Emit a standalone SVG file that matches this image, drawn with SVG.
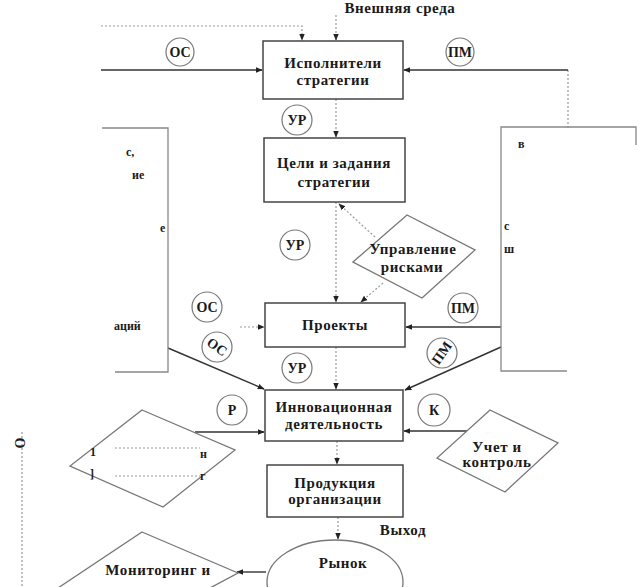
<svg xmlns="http://www.w3.org/2000/svg" width="639" height="587" viewBox="0 0 639 587">
<style>
  text{font-family:"Liberation Serif","DejaVu Serif",serif;font-weight:bold;fill:#1a1a1a;}
  .lbl{font-size:15px;letter-spacing:0.6px;text-anchor:middle;dominant-baseline:central;}
  .cl{font-size:14px;text-anchor:middle;dominant-baseline:central;}
  .frag{font-size:12px;dominant-baseline:central;}
  .box{fill:#fff;stroke:#444;stroke-width:1.5;}
  .dia{fill:#fff;stroke:#777;stroke-width:1.3;}
  .circ{fill:#fff;stroke:#777;stroke-width:1.2;}
  .big{fill:none;stroke:#888;stroke-width:1.3;}
  .solid{fill:none;stroke:#333;stroke-width:1.4;}
  .dot{fill:none;stroke:#999;stroke-width:1.2;stroke-dasharray:2 2;}
</style>
<defs>
  <marker id="ah" viewBox="0 0 10 10" refX="9" refY="5" markerWidth="7" markerHeight="7" orient="auto" markerUnits="userSpaceOnUse">
    <path d="M0,1 L10,5 L0,9 z" fill="#222"/>
  </marker>
</defs>
<rect width="639" height="587" fill="#fff"/>

<g id="connectors">
  <path class="dot" d="M336,15 V40" marker-end="url(#ah)"/>
  <path class="dot" d="M101,26 H302 V40" marker-end="url(#ah)"/>
  <path class="solid" d="M101,70 H262" marker-end="url(#ah)"/>
  <path class="dot" d="M568,128 V70" />
  <path class="solid" d="M568,70 H404" marker-end="url(#ah)"/>
  <path class="dot" d="M336,99 V137" marker-end="url(#ah)"/>
  <path class="dot" d="M336,202 V302" marker-end="url(#ah)"/>
  <path class="dot" d="M375,237 L339,204" marker-end="url(#ah)"/>
  <path class="dot" d="M383,283 L361,302" marker-end="url(#ah)"/>
  <path class="dot" d="M240,327 H264" marker-end="url(#ah)"/>
  <path class="solid" d="M501,327 H406" marker-end="url(#ah)"/>
  <path class="solid" d="M168,348 L264,389" marker-end="url(#ah)"/>
  <path class="solid" d="M501,347 L405,390" marker-end="url(#ah)"/>
  <path class="dot" d="M336,347 V389" marker-end="url(#ah)"/>
  <path class="solid" d="M195,432 H264" marker-end="url(#ah)"/>
  <path class="solid" d="M467,431 H404" marker-end="url(#ah)"/>
  <path class="dot" d="M337,441 V464" marker-end="url(#ah)"/>
  <path class="dot" d="M338,517 V539" marker-end="url(#ah)"/>
  <path class="solid" d="M266,572 H237" marker-end="url(#ah)"/>
  <path class="dot" d="M22,432 V587"/>
</g>

<g id="external">
  <text class="lbl" x="400" y="8">Внешняя среда</text>
</g>

<g id="left-block">
  <path class="big" d="M102,128 H168 V372 H115"/>
  <text class="frag" x="126" y="152">с,</text>
  <text class="frag" x="132" y="175" font-size="9">ие</text>
  <text class="frag" x="160" y="228">е</text>
  <text class="frag" x="114" y="326" font-size="11">аций</text>
</g>

<g id="right-block">
  <path class="big" d="M567,371 H501 V127 H636 V145"/>
  <text class="frag" x="518" y="144" font-size="10">в</text>
  <text class="frag" x="504" y="226" font-size="10">с</text>
  <text class="frag" x="504" y="249" font-size="10">ш</text>
</g>

<g id="n-ispolniteli">
  <rect class="box" x="263" y="41" width="140" height="58"/>
  <text class="lbl" x="333" y="63">Исполнители</text>
  <text class="lbl" x="333" y="80">стратегии</text>
</g>

<g id="n-celi">
  <rect class="box" x="264" y="138" width="141" height="64"/>
  <text class="lbl" x="334" y="163">Цели и задания</text>
  <text class="lbl" x="334" y="182">стратегии</text>
</g>

<g id="n-riski">
  <polygon class="dia" points="353,262 407,215 475,250 422,298"/>
  <text class="lbl" x="413" y="249">Управление</text>
  <text class="lbl" x="412" y="267">рисками</text>
</g>

<g id="n-proekty">
  <rect class="box" x="265" y="303" width="140" height="44"/>
  <text class="lbl" x="335" y="325">Проекты</text>
</g>

<g id="n-innov">
  <rect class="box" x="265" y="390" width="138" height="51"/>
  <text class="lbl" x="334" y="407">Инновационная</text>
  <text class="lbl" x="334" y="424">деятельность</text>
</g>

<g id="n-left-diamond">
  <polygon class="dia" points="142,410 235,450 163,507 70,466"/>
  <path class="dot" d="M115,448 H200 M115,476 H200"/>
  <text class="frag" x="90" y="452" font-size="14">1</text>
  <text class="frag" x="90" y="474" font-size="14">]</text>
  <text class="frag" x="200" y="454" font-size="10">н</text>
  <text class="frag" x="200" y="476" font-size="10">г</text>
</g>

<g id="n-uchet">
  <polygon class="dia" points="490,410 558,443 505,492 437,458"/>
  <text class="lbl" x="497" y="447">Учет и</text>
  <text class="lbl" x="497" y="462">контроль</text>
</g>

<g id="n-produkciya">
  <rect class="box" x="267" y="465" width="136" height="52"/>
  <text class="lbl" x="335" y="483">Продукция</text>
  <text class="lbl" x="335" y="499">организации</text>
</g>

<g id="vyhod">
  <text class="lbl" x="403" y="530">Выход</text>
</g>

<g id="n-rynok">
  <ellipse class="dia" cx="335" cy="582" rx="68" ry="42"/>
  <text class="lbl" x="343" y="563">Рынок</text>
</g>

<g id="n-monitoring">
  <polygon class="dia" points="142,532 238,573 150,620 40,600"/>
  <text class="lbl" x="158" y="570">Мониторинг и</text>
</g>

<g id="side-o">
  <text class="cl" x="20" y="443" transform="rotate(-90 20 443)">О</text>
</g>

<g id="c-os1"><circle class="circ" cx="180" cy="52" r="14"/><text class="cl" x="180" y="52">ОС</text></g>
<g id="c-pm1"><circle class="circ" cx="460" cy="52" r="14"/><text class="cl" x="460" y="52">ПМ</text></g>
<g id="c-ur1"><circle class="circ" cx="297" cy="120" r="15"/><text class="cl" x="297" y="120">УР</text></g>
<g id="c-ur2"><circle class="circ" cx="295" cy="245" r="15"/><text class="cl" x="295" y="245">УР</text></g>
<g id="c-os2"><circle class="circ" cx="207" cy="307" r="15"/><text class="cl" x="207" y="307">ОС</text></g>
<g id="c-os3"><circle class="circ" cx="217" cy="347" r="15"/><text class="cl" x="217" y="347" transform="rotate(35 217 347)">ОС</text></g>
<g id="c-ur3"><circle class="circ" cx="297" cy="368" r="15"/><text class="cl" x="297" y="368">УР</text></g>
<g id="c-pm2"><circle class="circ" cx="463" cy="308" r="15"/><text class="cl" x="463" y="308">ПМ</text></g>
<g id="c-pm3"><circle class="circ" cx="442" cy="353" r="15"/><text class="cl" x="442" y="353" transform="rotate(-55 442 353)">ПМ</text></g>
<g id="c-r"><circle class="circ" cx="232" cy="410" r="15"/><text class="cl" x="232" y="410">Р</text></g>
<g id="c-k"><circle class="circ" cx="434" cy="410" r="16"/><text class="cl" x="434" y="410">К</text></g>
</svg>
